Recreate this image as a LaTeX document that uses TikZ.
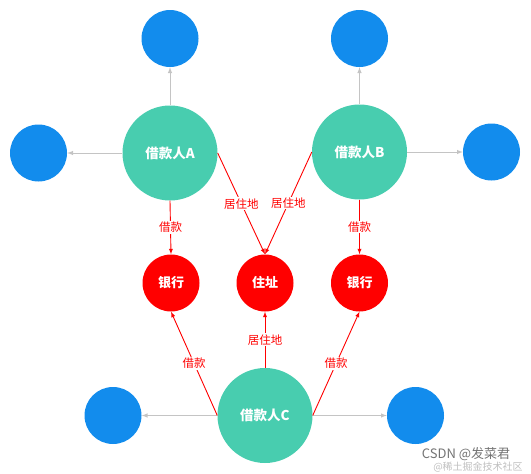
\documentclass[tikz,border=0pt]{standalone}
\usepackage{fontspec}
\setmainfont{Noto Sans CJK SC}
\usetikzlibrary{arrows}
\definecolor{tuerkis}{HTML}{48CDAF}
\definecolor{blau}{HTML}{128CED}
\definecolor{rot}{HTML}{FF0000}
\definecolor{hellgrau}{HTML}{C4C4C4}
\begin{document}
\begin{tikzpicture}[x=1pt, y=-1pt,
		>=latex,   %Pfeilspitzen
		person/.style={circle, fill=tuerkis, minimum size=95pt, inner sep=0pt, text=white, font=\bfseries\fontsize{13.5}{14}\selectfont},
		ziel/.style={circle, fill=rot, minimum size=57pt, inner sep=0pt, text=white, font=\bfseries\fontsize{13}{13}\selectfont},
		extern/.style={circle, fill=blau, minimum size=57pt, inner sep=0pt},
		grau/.style={->, draw=hellgrau, line width=1pt},
		rel/.style={->, draw=rot, line width=0.9pt},
		lab/.style={fill=white, text=rot, inner sep=1pt, font=\fontsize{11.5}{12}\selectfont}]
		%Rahmen
		\useasboundingbox (0,0) rectangle (531,474);
		%Personen
		\node[person] (pa) at (170,153) {借款人A};
		\node[person] (pb) at (359.5,152) {借款人B};
		\node[person] (pc) at (265,415.5) {借款人C};
		%Ziele
		\node[ziel] (bank1) at (171,283) {银行};
		\node[ziel] (adresse) at (265,283) {住址};
		\node[ziel] (bank2) at (359.5,283) {银行};
		%weitere Knoten
		\node[extern] (oa) at (170,38.5) {};
		\node[extern] (la) at (38.5,153) {};
		\node[extern] (ob) at (359.5,38.5) {};
		\node[extern] (rb) at (491.5,152) {};
		\node[extern] (lc) at (113,415.5) {};
		\node[extern] (rc) at (415.5,415.5) {};
		%graue Kanten
		\draw[grau] (pa) -- (oa);
		\draw[grau] (pa) -- (la);
		\draw[grau] (pb) -- (ob);
		\draw[grau] (pb) -- (rb);
		\draw[grau] (pc) -- (lc);
		\draw[grau] (pc) -- (rc);
		%rote Kanten
		\draw[rel] (pa.south) -- node[lab] {借款} (bank1.north);
		\draw[rel] (pb.south) -- node[lab] {借款} (bank2.north);
		\draw[rel] (pa.east) -- node[lab] {居住地} (adresse.north);
		\draw[rel] (pb.west) -- node[lab] {居住地} (adresse.north);
		\draw[rel] (pc.west) -- node[lab] {借款} (bank1.south);
		\draw[rel] (pc.east) -- node[lab] {借款} (bank2.south);
		\draw[rel] (pc.north) -- node[lab] {居住地} (adresse.south);
		%Wasserzeichen
		\node[text=black!55, font=\fontsize{13}{13}\selectfont, inner sep=0pt] (wz1) at (466,454) {CSDN @发菜君};
		\node[text=black!25, font=\fontsize{10}{10}\selectfont, inner sep=0pt] (wz2) at (478,467) {@稀土掘金技术社区};
	\end{tikzpicture}
\end{document}
